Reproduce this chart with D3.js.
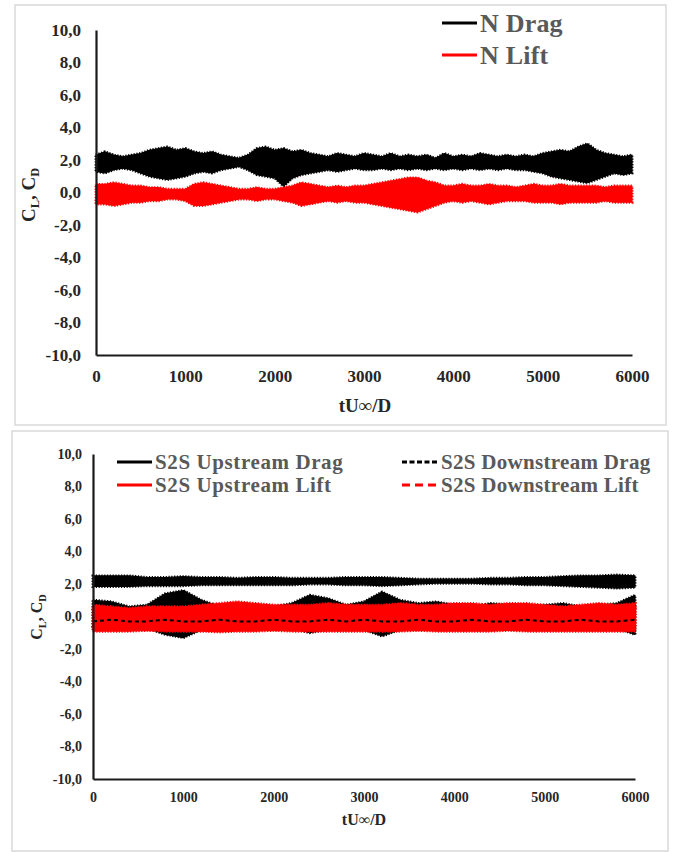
<!DOCTYPE html>
<html><head><meta charset="utf-8">
<script src="https://cdn.jsdelivr.net/npm/d3@7"></script>
<style>body{margin:0;background:#fff}svg{display:block}</style>
</head><body>
<svg id="c" width="675" height="852"></svg>
<script>
// ---------- DATA ----------
const yTicks = [-10,-8,-6,-4,-2,0,2,4,6,8,10];
const xTicks = [0,1000,2000,3000,4000,5000,6000];

// top panel (N) envelopes, t = 0..6000 step 100
const tTop = d3.range(0, 6001, 100);
const nDragHi = [2.3,2.5,2.3,2.2,2.3,2.4,2.6,2.7,2.8,2.6,2.7,2.5,2.4,2.5,2.3,2.2,2.1,2.3,2.7,2.8,2.6,2.7,2.5,2.6,2.4,2.3,2.2,2.4,2.3,2.2,2.4,2.3,2.2,2.4,2.2,2.3,2.2,2.3,2.1,2.4,2.2,2.3,2.2,2.4,2.3,2.2,2.3,2.2,2.3,2.2,2.4,2.5,2.6,2.5,2.8,3.0,2.6,2.4,2.3,2.2,2.3];
const nDragLo = [1.3,1.2,1.4,1.5,1.4,1.2,1.0,0.9,0.8,0.9,1.0,1.2,1.3,1.2,1.4,1.5,1.6,1.4,1.1,1.0,0.9,0.4,0.9,1.1,1.2,1.3,1.4,1.3,1.4,1.5,1.4,1.4,1.5,1.4,1.5,1.4,1.5,1.4,1.5,1.4,1.5,1.4,1.5,1.4,1.5,1.4,1.5,1.4,1.4,1.3,1.2,1.0,0.9,0.8,0.7,0.6,0.8,1.0,1.2,1.1,1.2];
const nLiftHi = [0.5,0.5,0.6,0.5,0.4,0.4,0.3,0.3,0.2,0.2,0.2,0.5,0.6,0.5,0.4,0.3,0.2,0.2,0.3,0.2,0.2,0.3,0.4,0.6,0.5,0.4,0.3,0.4,0.3,0.4,0.4,0.5,0.6,0.7,0.8,0.9,0.9,0.7,0.6,0.4,0.4,0.5,0.4,0.4,0.5,0.4,0.4,0.3,0.4,0.5,0.4,0.4,0.5,0.4,0.4,0.4,0.4,0.3,0.4,0.4,0.4];
const nLiftLo = [-0.7,-0.7,-0.8,-0.7,-0.6,-0.6,-0.5,-0.5,-0.4,-0.4,-0.5,-0.8,-0.8,-0.7,-0.6,-0.5,-0.4,-0.4,-0.5,-0.4,-0.4,-0.5,-0.6,-0.8,-0.7,-0.6,-0.5,-0.6,-0.5,-0.6,-0.6,-0.7,-0.8,-0.9,-1.0,-1.1,-1.2,-1.0,-0.8,-0.6,-0.5,-0.6,-0.5,-0.6,-0.7,-0.6,-0.5,-0.5,-0.5,-0.6,-0.6,-0.6,-0.7,-0.6,-0.6,-0.6,-0.6,-0.5,-0.6,-0.6,-0.6];

// bottom panel (S2S) envelopes, t = 0..6000 step 200
const tBot = d3.range(0, 6001, 200);
const upDragHi = [2.5,2.5,2.5,2.4,2.4,2.45,2.4,2.4,2.35,2.4,2.4,2.35,2.35,2.35,2.4,2.4,2.4,2.35,2.3,2.3,2.3,2.3,2.35,2.35,2.4,2.4,2.45,2.5,2.5,2.55,2.5];
const upDragLo = [1.85,1.85,1.85,1.9,1.9,1.9,1.95,1.95,1.95,1.95,1.95,1.95,2.0,2.0,1.95,1.95,1.9,1.95,2.0,2.05,2.05,2.05,2.0,2.0,1.95,1.95,1.9,1.85,1.8,1.75,1.8];
const upLiftHi = [0.7,0.6,0.5,0.6,0.6,0.6,0.7,0.8,0.9,0.8,0.7,0.7,0.7,0.8,0.7,0.7,0.7,0.8,0.7,0.7,0.8,0.8,0.7,0.8,0.8,0.7,0.6,0.7,0.8,0.7,0.8];
const upLiftLo = [-0.9,-0.9,-0.9,-0.85,-0.9,-0.9,-0.9,-0.95,-0.9,-0.9,-0.85,-0.9,-0.9,-0.9,-0.9,-0.9,-0.9,-0.9,-0.85,-0.9,-0.9,-0.9,-0.9,-0.85,-0.9,-0.9,-0.9,-0.9,-0.9,-0.9,-0.9];
const dnDragHi = [1.0,0.9,0.6,0.7,1.4,1.6,1.0,0.6,0.6,0.5,0.6,0.8,1.3,1.1,0.7,0.9,1.5,1.0,0.8,0.9,0.7,0.6,0.8,0.7,0.6,0.7,0.8,0.6,0.7,0.8,1.3];
const dnDragLo = [-0.6,-0.6,-0.6,-0.7,-1.1,-1.3,-0.8,-0.6,-0.6,-0.6,-0.6,-0.7,-1.0,-0.8,-0.6,-0.8,-1.2,-0.8,-0.7,-0.6,-0.6,-0.6,-0.6,-0.6,-0.6,-0.6,-0.7,-0.6,-0.6,-0.7,-1.1];
const dnDragMid = [-0.3,-0.2,-0.3,-0.3,-0.2,-0.3,-0.3,-0.2,-0.3,-0.3,-0.2,-0.3,-0.3,-0.2,-0.3,-0.2,-0.3,-0.3,-0.2,-0.3,-0.3,-0.2,-0.3,-0.3,-0.2,-0.3,-0.3,-0.2,-0.3,-0.3,-0.2];
const dnLiftHi = [0.4,0.3,0.4,0.4,0.3,0.4,0.4,0.5,0.5,0.4,0.4,0.4,0.5,0.4,0.4,0.5,0.4,0.5,0.4,0.4,0.5,0.4,0.4,0.5,0.4,0.4,0.4,0.5,0.4,0.4,0.5];
const dnLiftLo = [-0.6,-0.6,-0.6,-0.6,-0.7,-0.6,-0.6,-0.6,-0.7,-0.6,-0.6,-0.6,-0.6,-0.7,-0.6,-0.6,-0.6,-0.6,-0.7,-0.6,-0.6,-0.6,-0.6,-0.7,-0.6,-0.6,-0.6,-0.6,-0.7,-0.6,-0.6];

// ---------- DRAW ----------
const svg = d3.select("#c");
const FONT = "'Liberation Serif','Times New Roman',serif";
const fmt = d => (d < 0 ? "-" : "") + Math.abs(d).toFixed(1).replace(".", ",");

function panel(o) {
  svg.append("rect").attr("x", o.box[0]).attr("y", o.box[1])
    .attr("width", o.box[2]).attr("height", o.box[3])
    .attr("fill", "#fff").attr("stroke", "#d9d9d9").attr("stroke-width", 1.5);
  const x = d3.scaleLinear().domain([0, 6000]).range([o.x0, o.x1]);
  const y = d3.scaleLinear().domain([-10, 10]).range([o.y0, o.y1]);
  const g = svg.append("g");
  o.bands.forEach(b => {
    const area = d3.area().x((d, i) => x(b.t[i])).y0((d, i) => y(b.lo[i])).y1((d, i) => y(b.hi[i])).curve(d3.curveLinear);
    g.append("path").attr("d", area(b.hi)).attr("fill", b.color)
      .attr("stroke", b.color).attr("stroke-width", 1.2).attr("stroke-linejoin", "round");
    g.append("path").attr("d", area(b.hi)).attr("fill", "none")
      .attr("stroke", b.color).attr("stroke-width", 3).attr("stroke-dasharray", "1.2,1.6");
  });
  (o.lines || []).forEach(l => {
    const line = d3.line().x((d, i) => x(l.t[i])).y(d => y(d));
    g.append("path").attr("d", line(l.v)).attr("fill", "none").attr("stroke", l.color)
      .attr("stroke-width", l.w).attr("stroke-dasharray", l.dash);
  });
  const ya = svg.append("g").attr("transform", `translate(${o.x0},0)`)
    .call(d3.axisLeft(y).tickValues(yTicks).tickFormat(fmt).tickSize(0).tickPadding(o.ypad));
  const xa = svg.append("g").attr("transform", `translate(0,${o.y0})`)
    .call(d3.axisBottom(x).tickValues(xTicks).tickFormat(d3.format("d")).tickSize(0).tickPadding(o.xpad));
  [ya, xa].forEach(a => {
    a.select(".domain").attr("stroke", "#1a1a1a").attr("stroke-width", 2.2);
    a.selectAll("text").attr("font-family", FONT).attr("font-weight", "bold")
      .attr("font-size", o.tick).attr("fill", "#262626");
  });
  svg.append("text").attr("x", o.xt[0]).attr("y", o.xt[1]).attr("text-anchor", "middle")
    .attr("font-family", FONT).attr("font-weight", "bold").attr("font-size", o.title).attr("fill", "#262626")
    .text("tU∞/D");
  const yt = svg.append("text").attr("transform", `translate(${o.yt[0]},${o.yt[1]}) rotate(-90)`)
    .attr("text-anchor", "middle").attr("font-family", FONT).attr("font-weight", "bold")
    .attr("font-size", o.title).attr("fill", "#262626");
  yt.append("tspan").text("C");
  yt.append("tspan").attr("font-size", o.title * 0.65).attr("dy", o.title * 0.22).text("L");
  yt.append("tspan").attr("dy", -o.title * 0.22).text(", C");
  yt.append("tspan").attr("font-size", o.title * 0.65).attr("dy", o.title * 0.22).text("D");
  o.legend.forEach(L => {
    svg.append("line").attr("x1", L.x).attr("x2", L.x + L.len).attr("y1", L.y).attr("y2", L.y)
      .attr("stroke", L.color).attr("stroke-width", 3).attr("stroke-dasharray", L.dash);
    svg.append("text").attr("x", L.x + L.len + 3).attr("y", L.y + o.leg * 0.33)
      .attr("font-family", FONT).attr("font-weight", "bold").attr("font-size", o.leg)
      .attr("letter-spacing", L.ls != null ? L.ls : o.ls).attr("fill", "#595959").text(L.label);
  });
}

panel({
  box: [15, 5, 651, 420], x0: 96, x1: 632, y0: 355, y1: 30,
  tick: 17, ypad: 15, xpad: 15, title: 19, leg: 26, ls: 0.2,
  xt: [365, 412], yt: [35, 195],
  bands: [
    { t: tTop, hi: nDragHi, lo: nDragLo, color: "#000" },
    { t: tTop, hi: nLiftHi, lo: nLiftLo, color: "#f00" }
  ],
  legend: [
    { x: 442, y: 23, len: 35, color: "#000", label: "N Drag" },
    { x: 442, y: 55, len: 35, color: "#f00", label: "N Lift" }
  ]
});

panel({
  box: [12, 431, 656, 420], x0: 93, x1: 635, y0: 779, y1: 454,
  tick: 14, ypad: 11, xpad: 13, title: 16, leg: 21, ls: 0.6,
  xt: [364, 825], yt: [42, 617],
  bands: [
    { t: tBot, hi: upDragHi, lo: upDragLo, color: "#000" },
    { t: tBot, hi: dnDragHi, lo: dnDragLo, color: "#000" },
    { t: tBot, hi: upLiftHi, lo: upLiftLo, color: "#f00" },
    { t: tBot, hi: dnLiftHi, lo: dnLiftLo, color: "#f00" }
  ],
  lines: [
    { t: tBot, v: dnDragMid, color: "#000", w: 2, dash: "4,3" }
  ],
  legend: [
    { x: 117, y: 462, len: 35, color: "#000", label: "S2S Upstream Drag" },
    { x: 117, y: 485, len: 35, color: "#f00", label: "S2S Upstream Lift" },
    { x: 402, y: 462, len: 36, color: "#000", dash: "5,2.5", ls: 0.3, label: "S2S Downstream Drag" },
    { x: 402, y: 485, len: 36, color: "#f00", dash: "8,5", ls: 0.3, label: "S2S Downstream Lift" }
  ]
});
</script>
</body></html>
